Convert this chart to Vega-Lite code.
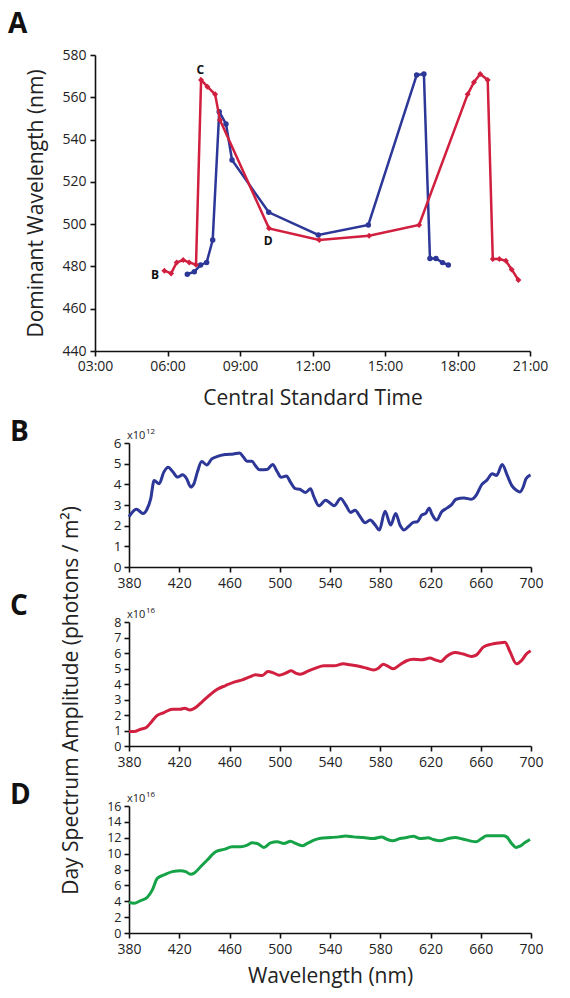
{
  "$schema": "https://vega.github.io/schema/vega-lite/v6.json",
  "padding": {"left": 8, "top": 11, "right": 10, "bottom": 10},
  "bounds": "flush",
  "spacing": 55,
  "config": {
    "font": "Open Sans",
    "view": {"stroke": null},
    "axis": {
      "grid": false, "domainColor": "#111", "domainWidth": 1.6, "tickColor": "#111", "tickWidth": 1.6, "tickSize": 5,
      "labelFontSize": 14, "labelColor": "#222", "labelFont": "Open Sans", "labelPadding": 3, "labelFlush": false, "labelOverlap": false, "labelBound": false,
      "titleFont": "Open Sans", "titleFontWeight": "normal", "titleColor": "#222", "titleFontSize": 21, "titleBaseline": "alphabetic"
    },
    "title": {"anchor": "start", "frame": "group", "offset": 0, "fontSize": 28, "fontWeight": "bold", "font": "Open Sans", "color": "#111", "baseline": "alphabetic"}
  },
  "datasets": {
    "timeline": [
      {"series": "blue", "hour": 6.82, "nm": 476.3}, {"series": "blue", "hour": 7.11, "nm": 477.5}, {"series": "blue", "hour": 7.37, "nm": 480.7},
      {"series": "blue", "hour": 7.62, "nm": 481.9}, {"series": "blue", "hour": 7.87, "nm": 492.5}, {"series": "blue", "hour": 8.14, "nm": 553.2},
      {"series": "blue", "hour": 8.42, "nm": 547.4}, {"series": "blue", "hour": 8.67, "nm": 530.3}, {"series": "blue", "hour": 10.19, "nm": 505.6},
      {"series": "blue", "hour": 12.24, "nm": 494.9}, {"series": "blue", "hour": 14.31, "nm": 499.6}, {"series": "blue", "hour": 16.31, "nm": 570.5},
      {"series": "blue", "hour": 16.61, "nm": 571.0}, {"series": "blue", "hour": 16.86, "nm": 483.8}, {"series": "blue", "hour": 17.11, "nm": 483.8},
      {"series": "blue", "hour": 17.38, "nm": 481.8}, {"series": "blue", "hour": 17.62, "nm": 480.7},
      {"series": "red", "hour": 5.87, "nm": 478.0}, {"series": "red", "hour": 6.15, "nm": 476.7}, {"series": "red", "hour": 6.38, "nm": 481.9},
      {"series": "red", "hour": 6.65, "nm": 483.0}, {"series": "red", "hour": 6.90, "nm": 481.9}, {"series": "red", "hour": 7.18, "nm": 480.8},
      {"series": "red", "hour": 7.39, "nm": 568.2}, {"series": "red", "hour": 7.65, "nm": 565.0}, {"series": "red", "hour": 7.97, "nm": 561.4},
      {"series": "red", "hour": 8.17, "nm": 549.3}, {"series": "red", "hour": 10.20, "nm": 498.0}, {"series": "red", "hour": 12.28, "nm": 492.5},
      {"series": "red", "hour": 14.34, "nm": 494.5}, {"series": "red", "hour": 16.41, "nm": 499.6}, {"series": "red", "hour": 18.42, "nm": 561.4},
      {"series": "red", "hour": 18.68, "nm": 567.1}, {"series": "red", "hour": 18.94, "nm": 571.0}, {"series": "red", "hour": 19.25, "nm": 568.2},
      {"series": "red", "hour": 19.46, "nm": 483.5}, {"series": "red", "hour": 19.73, "nm": 483.5}, {"series": "red", "hour": 20.00, "nm": 482.7},
      {"series": "red", "hour": 20.24, "nm": 478.6}, {"series": "red", "hour": 20.52, "nm": 473.6}
    ],
    "letters": [
      {"label": "B", "hour": 5.48, "nm": 476.0},
      {"label": "C", "hour": 7.36, "nm": 572.9},
      {"label": "D", "hour": 10.17, "nm": 492.0}
    ],
    "specB": [
      {"wl":380,"v":2.43},{"wl":385.9,"v":2.80},{"wl":391.2,"v":2.59},{"wl":393.9,"v":2.75},{"wl":397.3,"v":3.31},{"wl":400,"v":4.19},{"wl":404,"v":4.03},{"wl":407.7,"v":4.59},{"wl":411.2,"v":4.83},{"wl":414.7,"v":4.62},{"wl":418.7,"v":4.35},{"wl":422.7,"v":4.46},{"wl":425.9,"v":4.27},{"wl":429.1,"v":3.87},{"wl":431.7,"v":4.03},{"wl":434.4,"v":4.59},{"wl":437.9,"v":5.10},{"wl":441.9,"v":4.94},{"wl":445.9,"v":5.23},{"wl":449.9,"v":5.34},{"wl":456.5,"v":5.44},{"wl":463.2,"v":5.47},{"wl":468,"v":5.52},{"wl":471.2,"v":5.31},{"wl":473.9,"v":5.12},{"wl":477.9,"v":5.12},{"wl":480.5,"v":4.91},{"wl":484,"v":4.70},{"wl":489.9,"v":4.72},{"wl":494.4,"v":4.96},{"wl":497.9,"v":4.62},{"wl":501.1,"v":4.34},{"wl":505.3,"v":4.40},{"wl":508.5,"v":4.11},{"wl":512.5,"v":3.79},{"wl":516,"v":3.76},{"wl":520.5,"v":3.60},{"wl":524.5,"v":3.79},{"wl":527.2,"v":3.39},{"wl":531.2,"v":2.96},{"wl":536.5,"v":3.23},{"wl":540.5,"v":3.07},{"wl":543.2,"v":2.96},{"wl":548.5,"v":3.31},{"wl":552.5,"v":3.00},{"wl":556.5,"v":2.64},{"wl":560,"v":2.75},{"wl":564,"v":2.43},{"wl":568,"v":2.14},{"wl":572,"v":2.27},{"wl":576,"v":2.03},{"wl":579.3,"v":1.79},{"wl":583.8,"v":2.70},{"wl":588.3,"v":2.03},{"wl":592.3,"v":2.59},{"wl":595.7,"v":2.03},{"wl":598.9,"v":1.79},{"wl":602.3,"v":1.95},{"wl":606.3,"v":2.16},{"wl":609.5,"v":2.19},{"wl":613,"v":2.51},{"wl":616.1,"v":2.59},{"wl":619,"v":2.86},{"wl":620.9,"v":2.59},{"wl":624.9,"v":2.27},{"wl":628.9,"v":2.67},{"wl":633.4,"v":2.86},{"wl":636.8,"v":3.02},{"wl":640.3,"v":3.28},{"wl":646.6,"v":3.34},{"wl":652.7,"v":3.28},{"wl":656.7,"v":3.50},{"wl":660.7,"v":3.98},{"wl":664.7,"v":4.19},{"wl":669.2,"v":4.51},{"wl":672.6,"v":4.43},{"wl":677.1,"v":4.96},{"wl":681.1,"v":4.43},{"wl":684.6,"v":3.95},{"wl":688.5,"v":3.71},{"wl":691.2,"v":3.63},{"wl":693.8,"v":3.87},{"wl":696,"v":4.27},{"wl":699.6,"v":4.46}
    ],
    "specC": [
      {"wl":380,"v":0.93},{"wl":384,"v":0.93},{"wl":389.3,"v":1.08},{"wl":394,"v":1.21},{"wl":398,"v":1.57},{"wl":402,"v":1.94},{"wl":407.9,"v":2.16},{"wl":414.5,"v":2.37},{"wl":420.6,"v":2.37},{"wl":424.3,"v":2.44},{"wl":428.5,"v":2.33},{"wl":432.3,"v":2.44},{"wl":438.4,"v":2.87},{"wl":445,"v":3.34},{"wl":450.3,"v":3.66},{"wl":456.9,"v":3.90},{"wl":463.6,"v":4.12},{"wl":470.2,"v":4.27},{"wl":475.5,"v":4.44},{"wl":480.8,"v":4.59},{"wl":486.1,"v":4.55},{"wl":490.6,"v":4.81},{"wl":495.4,"v":4.70},{"wl":499.4,"v":4.57},{"wl":504.7,"v":4.70},{"wl":509.2,"v":4.85},{"wl":512.6,"v":4.70},{"wl":516.6,"v":4.63},{"wl":521.9,"v":4.81},{"wl":528.5,"v":5.02},{"wl":535.2,"v":5.17},{"wl":543.1,"v":5.17},{"wl":550.6,"v":5.30},{"wl":555.9,"v":5.24},{"wl":563.9,"v":5.13},{"wl":569.2,"v":5.02},{"wl":574.5,"v":4.91},{"wl":578.5,"v":5.02},{"wl":582.4,"v":5.28},{"wl":586.4,"v":5.13},{"wl":590.4,"v":4.98},{"wl":595.7,"v":5.24},{"wl":601,"v":5.50},{"wl":606.3,"v":5.60},{"wl":612.9,"v":5.56},{"wl":619.6,"v":5.67},{"wl":623.6,"v":5.56},{"wl":628.1,"v":5.45},{"wl":632.8,"v":5.78},{"wl":639.5,"v":6.03},{"wl":646.1,"v":5.93},{"wl":652.7,"v":5.78},{"wl":656.7,"v":5.88},{"wl":662,"v":6.38},{"wl":668.6,"v":6.57},{"wl":674,"v":6.64},{"wl":679.3,"v":6.70},{"wl":683.2,"v":6.10},{"wl":688.5,"v":5.30},{"wl":692.5,"v":5.52},{"wl":696.5,"v":5.95},{"wl":699.7,"v":6.14}
    ],
    "specD": [
      {"wl":380,"v":3.84},{"wl":384,"v":3.76},{"wl":389.3,"v":4.09},{"wl":394.6,"v":4.51},{"wl":398.6,"v":5.43},{"wl":402.5,"v":6.89},{"wl":407.9,"v":7.31},{"wl":414.5,"v":7.73},{"wl":421.1,"v":7.85},{"wl":425.1,"v":7.73},{"wl":429.1,"v":7.39},{"wl":432.3,"v":7.60},{"wl":437,"v":8.35},{"wl":442.3,"v":9.19},{"wl":449,"v":10.23},{"wl":455.6,"v":10.53},{"wl":462.2,"v":10.86},{"wl":468.9,"v":10.86},{"wl":474.2,"v":11.07},{"wl":478.1,"v":11.36},{"wl":482.1,"v":11.28},{"wl":487.4,"v":10.78},{"wl":492.7,"v":11.36},{"wl":498,"v":11.49},{"wl":503.3,"v":11.28},{"wl":508.6,"v":11.57},{"wl":512.6,"v":11.28},{"wl":517.9,"v":10.99},{"wl":521.9,"v":11.28},{"wl":527.2,"v":11.70},{"wl":532.5,"v":11.95},{"wl":540.5,"v":12.03},{"wl":547.1,"v":12.11},{"wl":552.4,"v":12.22},{"wl":558.6,"v":12.11},{"wl":566.5,"v":12.03},{"wl":574.5,"v":11.90},{"wl":581.1,"v":12.11},{"wl":585.1,"v":11.82},{"wl":589.9,"v":11.61},{"wl":595.7,"v":11.90},{"wl":601,"v":12.03},{"wl":606.3,"v":12.20},{"wl":611.6,"v":11.90},{"wl":618.2,"v":11.99},{"wl":622.2,"v":11.78},{"wl":627.5,"v":11.61},{"wl":634.2,"v":11.90},{"wl":639.5,"v":12.03},{"wl":646.1,"v":11.82},{"wl":651.4,"v":11.61},{"wl":656.2,"v":11.49},{"wl":660.7,"v":11.90},{"wl":664.7,"v":12.24},{"wl":671.3,"v":12.24},{"wl":677.9,"v":12.24},{"wl":680.6,"v":12.11},{"wl":684.6,"v":11.28},{"wl":688,"v":10.78},{"wl":691.2,"v":10.94},{"wl":695.2,"v":11.40},{"wl":699.2,"v":11.78}
    ]
  },
  "vconcat": [
    {
      "width": 435, "height": 296,
      "title": {"text": "A", "dx": -87, "dy": -5},
      "layer": [
        {
          "data": {"name": "timeline"},
          "transform": [{"filter": "datum.series === 'blue'"}],
          "mark": {"type": "line", "color": "#2c3797", "strokeWidth": 2.5, "point": {"filled": true, "size": 30, "color": "#2c3797"}},
          "encoding": {
            "x": {"field": "hour", "type": "quantitative", "scale": {"domain": [3, 21], "nice": false, "zero": false},
                  "axis": {"values": [3, 6, 9, 12, 15, 18, 21], "tickCount": 30, "labelExpr": "(datum.value < 10 ? '0' : '') + datum.value + ':00'", "title": "Central Standard Time", "titleY": 53, "labelOverlap": false}},
            "y": {"field": "nm", "type": "quantitative", "scale": {"domain": [440, 580], "nice": false, "zero": false},
                  "axis": {"values": [440, 460, 480, 500, 520, 540, 560, 580], "tickCount": 30, "format": "d", "title": "Dominant Wavelength (nm)", "titleX": -53, "titleY": 148, "labelPadding": 4, "labelOverlap": false}}
          }
        },
        {
          "data": {"name": "timeline"},
          "transform": [{"filter": "datum.series === 'red'"}],
          "mark": {"type": "line", "color": "#d01f3f", "strokeWidth": 2.5, "point": {"filled": true, "size": 36, "shape": "diamond", "color": "#d01f3f"}},
          "encoding": {
            "x": {"field": "hour", "type": "quantitative"},
            "y": {"field": "nm", "type": "quantitative"}
          }
        },
        {
          "data": {"name": "letters"},
          "mark": {"type": "text", "fontSize": 12, "fontWeight": "bold", "color": "#111", "align": "center", "baseline": "middle"},
          "encoding": {
            "x": {"field": "hour", "type": "quantitative"},
            "y": {"field": "nm", "type": "quantitative"},
            "text": {"field": "label"}
          }
        }
      ]
    },
    {
      "width": 436, "height": 161,
      "title": {"text": "B", "dx": -85, "dy": 45},
      "layer": [
        {
          "data": {"name": "specB"},
          "mark": {"type": "line", "color": "#2c3797", "strokeWidth": 3, "interpolate": "monotone"},
          "encoding": {
            "x": {"field": "wl", "type": "quantitative", "scale": {"domain": [380, 700], "nice": false, "zero": false, "range": [34, 436]},
                  "axis": {"values": [380, 420, 460, 500, 540, 580, 620, 660, 700], "tickCount": 30, "format": "d", "labelPadding": 4, "title": null, "labelOverlap": false}},
            "y": {"field": "v", "type": "quantitative", "scale": {"domain": [0, 6], "nice": false, "range": [161, 37]},
                  "axis": {"values": [0, 1, 2, 3, 4, 5, 6], "tickCount": 30, "format": "d", "labelFontSize": 13.5, "title": null, "offset": -34, "labelOverlap": false}}
          }
        },
        {
          "data": {"values": [{"wl": 380, "v": 6, "base": "x10", "exp": "12"}]},
          "mark": {"type": "text", "align": "left", "baseline": "alphabetic", "dx": -2, "dy": -4, "fontSize": 11, "color": "#222"},
          "encoding": {"x": {"field": "wl", "type": "quantitative"}, "y": {"field": "v", "type": "quantitative"}, "text": {"field": "base"}}
        },
        {
          "data": {"values": [{"wl": 380, "v": 6, "base": "x10", "exp": "12"}]},
          "mark": {"type": "text", "align": "left", "baseline": "alphabetic", "dx": 17, "dy": -9, "fontSize": 8, "color": "#222"},
          "encoding": {"x": {"field": "wl", "type": "quantitative"}, "y": {"field": "v", "type": "quantitative"}, "text": {"field": "exp"}}
        }
      ]
    },
    {
      "width": 436, "height": 124,
      "title": {"text": "C", "dx": -85, "dy": 119},
      "layer": [
        {
          "data": {"name": "specC"},
          "mark": {"type": "line", "color": "#d01f3f", "strokeWidth": 3, "interpolate": "monotone"},
          "encoding": {
            "x": {"field": "wl", "type": "quantitative", "scale": {"domain": [380, 700], "nice": false, "zero": false, "range": [34, 436]},
                  "axis": {"values": [380, 420, 460, 500, 540, 580, 620, 660, 700], "tickCount": 30, "format": "d", "labelPadding": 4, "title": null, "labelOverlap": false}},
            "y": {"field": "v", "type": "quantitative", "scale": {"domain": [0, 8], "nice": false},
                  "axis": {"values": [0, 1, 2, 3, 4, 5, 6, 7, 8], "tickCount": 30, "format": "d", "labelFontSize": 12.5, "title": "Day Spectrum Amplitude (photons / m²)", "offset": -34, "titleX": -52, "titleY": 78, "labelOverlap": false}}
          }
        },
        {
          "data": {"values": [{"wl": 380, "v": 8, "base": "x10", "exp": "16"}]},
          "mark": {"type": "text", "align": "left", "baseline": "alphabetic", "dx": -2, "dy": -4, "fontSize": 11, "color": "#222"},
          "encoding": {"x": {"field": "wl", "type": "quantitative"}, "y": {"field": "v", "type": "quantitative"}, "text": {"field": "base"}}
        },
        {
          "data": {"values": [{"wl": 380, "v": 8, "base": "x10", "exp": "16"}]},
          "mark": {"type": "text", "align": "left", "baseline": "alphabetic", "dx": 17, "dy": -9, "fontSize": 8, "color": "#222"},
          "encoding": {"x": {"field": "wl", "type": "quantitative"}, "y": {"field": "v", "type": "quantitative"}, "text": {"field": "exp"}}
        }
      ]
    },
    {
      "width": 436, "height": 132,
      "title": {"text": "D", "dx": -85, "dy": 23},
      "layer": [
        {
          "data": {"name": "specD"},
          "mark": {"type": "line", "color": "#16a348", "strokeWidth": 3, "interpolate": "monotone"},
          "encoding": {
            "x": {"field": "wl", "type": "quantitative", "scale": {"domain": [380, 700], "nice": false, "zero": false, "range": [34, 436]},
                  "axis": {"values": [380, 420, 460, 500, 540, 580, 620, 660, 700], "tickCount": 30, "format": "d", "labelPadding": 4, "title": "Wavelength (nm)", "titleY": 49, "labelOverlap": false}},
            "y": {"field": "v", "type": "quantitative", "scale": {"domain": [0, 16], "nice": false, "range": [132, 5]},
                  "axis": {"values": [0, 2, 4, 6, 8, 10, 12, 14, 16], "tickCount": 30, "format": "d", "labelFontSize": 12.5, "title": null, "offset": -34, "labelOverlap": false}}
          }
        },
        {
          "data": {"values": [{"wl": 380, "v": 16, "base": "x10", "exp": "16"}]},
          "mark": {"type": "text", "align": "left", "baseline": "alphabetic", "dx": -2, "dy": -4, "fontSize": 11, "color": "#222"},
          "encoding": {"x": {"field": "wl", "type": "quantitative"}, "y": {"field": "v", "type": "quantitative"}, "text": {"field": "base"}}
        },
        {
          "data": {"values": [{"wl": 380, "v": 16, "base": "x10", "exp": "16"}]},
          "mark": {"type": "text", "align": "left", "baseline": "alphabetic", "dx": 17, "dy": -9, "fontSize": 8, "color": "#222"},
          "encoding": {"x": {"field": "wl", "type": "quantitative"}, "y": {"field": "v", "type": "quantitative"}, "text": {"field": "exp"}}
        }
      ]
    }
  ]
}
